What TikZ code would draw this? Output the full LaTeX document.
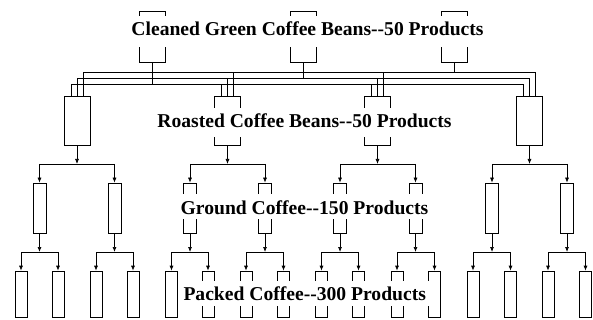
\documentclass[tikz,border=0pt]{standalone}
\usepackage{fontspec}
\setmainfont{Liberation Serif}[Ligatures=TeXOff]
\usetikzlibrary{arrows.meta, calc}

\begin{document}
\begin{tikzpicture}[
        x=1pt, y=-1pt,
        box/.style={draw=black, line width=0.7pt, inner sep=0pt},
        greenbox/.style={box, minimum width=26pt, minimum height=51pt},
        roastbox/.style={box, minimum width=26pt, minimum height=49pt},
        groundbox/.style={box, minimum width=13pt, minimum height=50pt},
        packbox/.style={box, minimum width=12pt, minimum height=46pt},
        stagetext/.style={fill=white, anchor=base, font=\bfseries\fontsize{19.6}{20}\selectfont, inner xsep=5pt, inner ysep=0pt, text height=19.5pt},
        link/.style={line width=0.7pt},
        arrow/.style={-{Latex[length=5pt, width=4pt]}, line width=0.7pt}
    ]
    \useasboundingbox (0,0) rectangle (593,320);

    % boxes, one row per stage
    \foreach \n/\x in {1/152, 2/303, 3/454}
        \node[greenbox] (g\n) at (\x,36.5) {};
    \foreach \n/\x in {1/77, 2/227.5, 3/377.5, 4/529.5}
        \node[roastbox] (r\n) at (\x,120.5) {};
    \foreach \n/\x in {1/39.5, 2/114.5, 3/190, 4/265, 5/340, 6/415.5, 7/492, 8/567}
        \node[groundbox] (c\n) at (\x,208) {};
    \foreach \n/\x in {1/21, 2/58, 3/96, 4/133, 5/171.5, 6/208, 7/246, 8/283.5,
                       9/321.5, 10/358.5, 11/397, 12/434.5, 13/473, 14/510.5, 15/548, 16/585.5}
        \node[packbox] (p\n) at (\x,294) {};

    \coordinate (split1) at (0,164);
    \coordinate (split2) at (0,252);

    % three bus lines from the green beans to every roaster
    \foreach \k/\dx/\y/\g in {1/6/72/3, 2/0/78/2, 3/-6/84/1} {
        \coordinate (bus\k) at (0,\y);
        \draw[link] ([xshift=\dx pt]r1.north) -- ([xshift=\dx pt]r1.north |- bus\k)
            -- ([xshift=\dx pt]r4.north |- bus\k) -- ([xshift=\dx pt]r4.north);
        \foreach \r in {2,3}
            \draw[link] ([xshift=\dx pt]r\r.north) -- ([xshift=\dx pt]r\r.north |- bus\k);
        \draw[link] (g\g.south) -- (g\g.south |- bus\k);
    }

    % roasted -> ground
    \foreach \i [evaluate=\i as \a using int(2*\i-1), evaluate=\i as \b using int(2*\i)] in {1,...,4} {
        \draw[arrow] (r\i.south) -- (r\i.south |- split1);
        \draw[link] (c\a.north |- split1) -- (c\b.north |- split1);
        \draw[arrow] (c\a.north |- split1) -- (c\a.north);
        \draw[arrow] (c\b.north |- split1) -- (c\b.north);
    }

    % ground -> packed
    \foreach \i [evaluate=\i as \a using int(2*\i-1), evaluate=\i as \b using int(2*\i)] in {1,...,8} {
        \draw[arrow] (c\i.south) -- (c\i.south |- split2);
        \draw[link] (p\a.north |- split2) -- (p\b.north |- split2);
        \draw[arrow] (p\a.north |- split2) -- (p\a.north);
        \draw[arrow] (p\b.north |- split2) -- (p\b.north);
    }

    % stage labels
    \node[stagetext, text depth=11pt] (greentxt) at (307.5,36) {Cleaned Green Coffee Beans--50 Products};
    \node[stagetext, text depth=9pt] (roasttxt) at (304.5,128) {Roasted Coffee Beans--50 Products};
    \node[stagetext, text depth=5pt] (groundtxt) at (304.5,214) {Ground Coffee--150 Products};
    \node[stagetext, text depth=5.5pt] (packtxt) at (304.7,300.5) {Packed Coffee--300 Products};

\end{tikzpicture}
\end{document}
